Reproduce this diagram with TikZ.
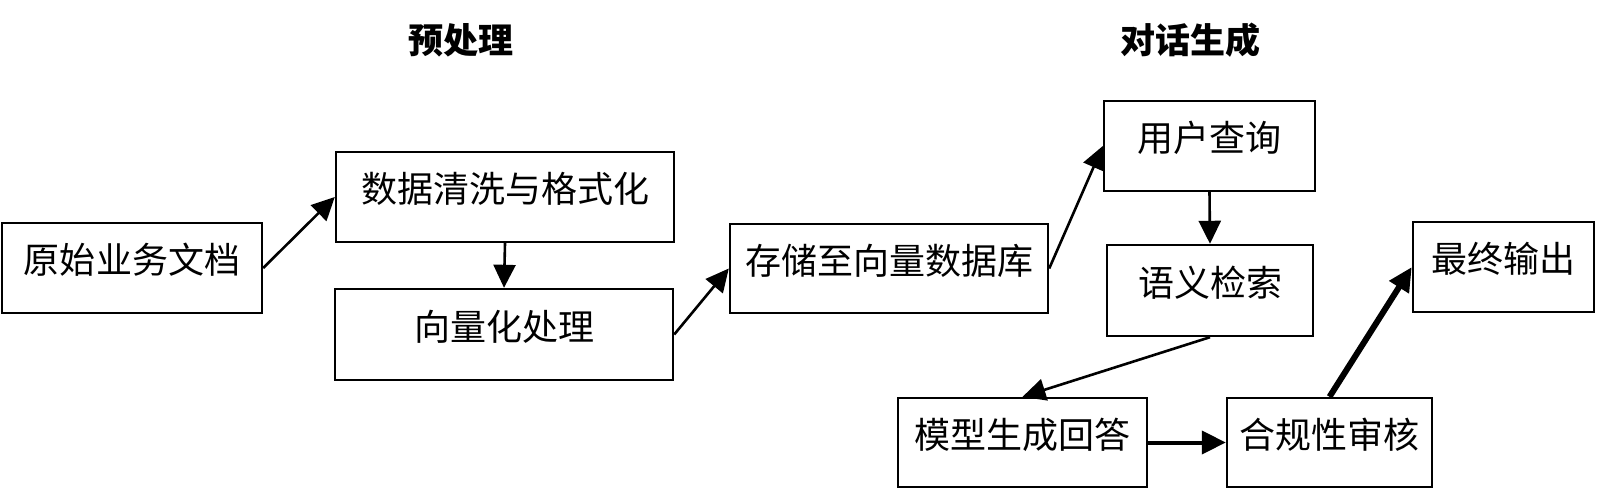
\documentclass[tikz,border=0pt]{standalone}
\usepackage{fontspec}
\setmainfont{Noto Sans CJK SC}
\usetikzlibrary{arrows.meta}
\tikzset{
  box/.style={draw=black, line width=1.2pt, rectangle, inner sep=0pt, align=center,
    font=\fontsize{18pt}{20pt}\selectfont, text height=15pt, text depth=9pt},
  ttl/.style={inner sep=0pt, font=\fontsize{17.5pt}{20pt}\selectfont\bfseries},
  conn/.style={line width=1.3pt, -{Triangle[length=11.5pt,width=11pt]}},
  connmid/.style={line width=2pt, -{Triangle[length=12pt,width=11.5pt]}},
  connthick/.style={line width=3pt, -{Triangle[length=12pt,width=11pt]}}
}
\begin{document}
\begin{tikzpicture}[x=0.5pt,y=-0.5pt]
\useasboundingbox (0,0) rectangle (1600,496);
\node[ttl] (t1) at (461,40) {预处理};
\node[ttl] (t2) at (1190,40) {对话生成};

\node[box, minimum width=130pt, minimum height=45pt] (A) at (132,268) {原始业务文档};
\node[box, minimum width=169pt, minimum height=45pt] (B) at (505,197) {数据清洗与格式化};
\node[box, minimum width=169pt, minimum height=45.5pt] (C) at (504,334.5) {向量化处理};
\node[box, minimum width=159pt, minimum height=44.5pt] (D) at (889,268.5) {存储至向量数据库};
\node[box, minimum width=105.5pt, minimum height=45pt] (E) at (1209.5,146) {用户查询};
\node[box, minimum width=103pt, minimum height=45.5pt] (F) at (1210,290.5) {语义检索};
\node[box, minimum width=90.5pt, minimum height=45pt] (G) at (1503.5,267) {最终输出};
\node[box, minimum width=124.5pt, minimum height=44.5pt] (H) at (1022.5,442.5) {模型生成回答};
\node[box, minimum width=102.5pt, minimum height=44.5pt] (I) at (1329.5,442.5) {合规性审核};

\draw[conn] (A.east) -- (B.west);
\draw[conn] (B.south) -- (C.north);
\draw[conn] (C.east) -- (D.west);
\draw[conn] (D.east) -- (E.west);
\draw[conn] (E.south) -- (F.north);
\draw[conn] (F.south) -- (H.north);
\draw[connmid] (H.east) -- (I.west);
\draw[connthick] (I.north) -- (G.west);
\end{tikzpicture}
\end{document}
